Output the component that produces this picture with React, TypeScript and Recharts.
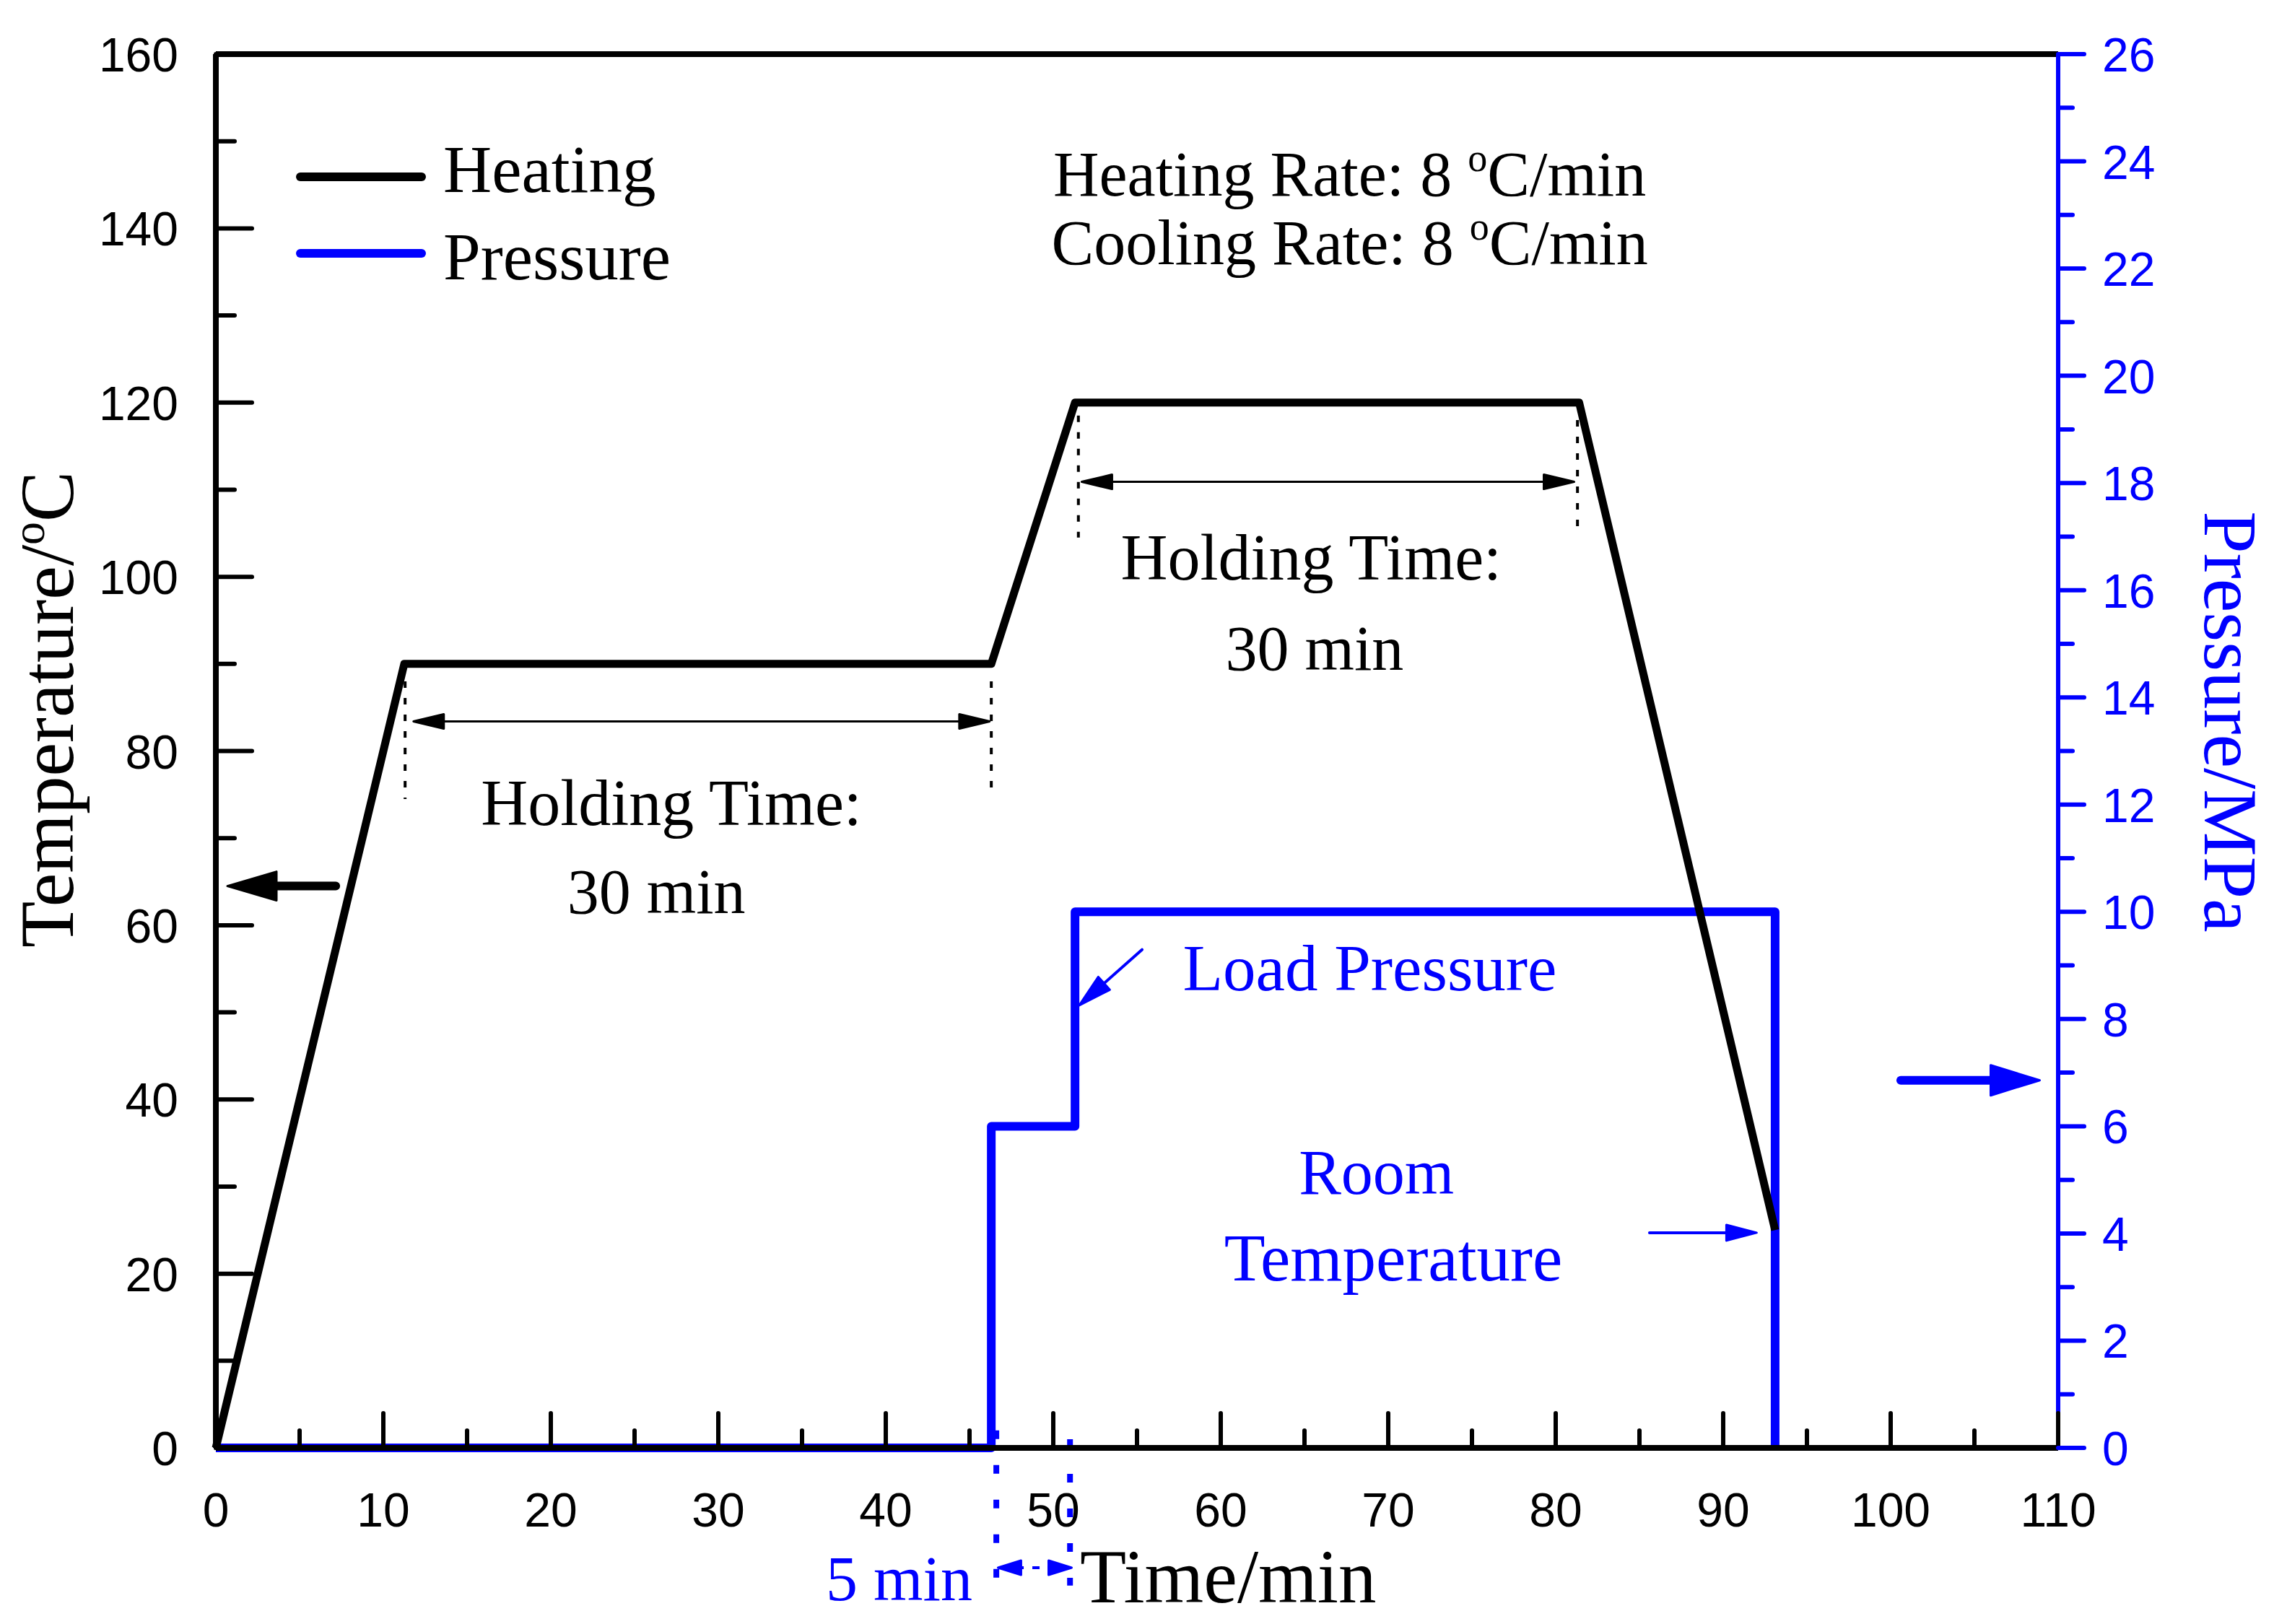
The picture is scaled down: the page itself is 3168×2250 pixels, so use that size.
import React from 'react';
import { ComposedChart, Line, XAxis, YAxis, ReferenceLine, ReferenceDot, Legend, Label } from 'recharts';

const SERIF = '"Liberation Serif", "Times New Roman", serif';
const SANS = '"Liberation Sans", Arial, sans-serif';
const BLUE = '#0000ff';

// heating profile (min, °C)
const heatTime = [0, 11.25, 46.3, 51.3, 81.4, 93.1];
const heatTemp = [0, 90, 90, 120, 120, 25];

// pressure profile (min, MPa)
const pressTime = [0, 46.3, 46.3, 51.3, 51.3, 93.1, 93.1];
const pressMPa = [0, 0, 6, 6, 10, 10, 0];

const timeTicks = [0, 5, 10, 15, 20, 25, 30, 35, 40, 45, 50, 55, 60, 65, 70, 75, 80, 85, 90, 95, 100, 105, 110];
const tempTicks = [0, 10, 20, 30, 40, 50, 60, 70, 80, 90, 100, 110, 120, 130, 140, 150, 160];
const pressTicks = [0, 1, 2, 3, 4, 5, 6, 7, 8, 9, 10, 11, 12, 13, 14, 15, 16, 17, 18, 19, 20, 21, 22, 23, 24, 25, 26];

const heatingData = heatTime.map((t, i) => ({ time: t, temp: heatTemp[i] }));
const pressureData = pressTime.map((t, i) => ({ time: t, pressure: pressMPa[i] }));

// annotation anchors, in data units (min, °C on the left axis)
const holdGuides = [
    { x: 11.3, y1: 88, y2: 74.5 },
    { x: 46.3, y1: 88, y2: 75.5 },
    { x: 51.5, y1: 118.5, y2: 104.5 },
    { x: 81.3, y1: 118, y2: 105 },
];
const holdArrows = [
    { x1: 11.8, x2: 46.2, y: 83.4 },
    { x1: 51.7, x2: 81.1, y: 110.9 },
];
const stepGuides = [
    { x: 46.6, y1: 2, y2: -15.8 },
    { x: 51.0, y1: 1, y2: -15.8 },
];
const stepArrow = { x1: 46.7, x2: 51.1, y: -13.75 };

const pointers = [
    { from: [7.16, 64.5], to: [0.69, 64.5], color: '#000', w: 12, head: 68, half: 20 },
    { from: [100.6, 42.2], to: [108.9, 42.2], color: BLUE, w: 12, head: 68, half: 21 },
    { from: [85.6, 24.7], to: [92.0, 24.7], color: BLUE, w: 4, head: 42, half: 11 },
    { from: [55.3, 57.2], to: [51.55, 50.8], color: BLUE, w: 4, head: 46, half: 12 },
];

const notes = [
    { x: 67.7, y: 143.8, size: 88, text: 'Heating Rate: 8 ', sup: 'o', tail: 'C/min', color: '#000' },
    { x: 67.7, y: 135.9, size: 88, text: 'Cooling Rate: 8 ', sup: 'o', tail: 'C/min', color: '#000' },
    { x: 27.2, y: 71.5, size: 90, text: 'Holding Time:', color: '#000' },
    { x: 26.3, y: 61.4, size: 88, text: '30 min', color: '#000' },
    { x: 65.4, y: 99.7, size: 90, text: 'Holding Time:', color: '#000' },
    { x: 65.6, y: 89.3, size: 88, text: '30 min', color: '#000' },
    { x: 68.9, y: 52.5, size: 91, text: 'Load Pressure', color: BLUE },
    { x: 69.3, y: 29.2, size: 88, text: 'Room', color: BLUE },
    { x: 70.3, y: 19.2, size: 93, text: 'Temperature', color: BLUE },
    { x: 40.8, y: -17.5, size: 88, text: '5 min', color: BLUE },
];

const arrowShape = (color: string, w: number, head: number, half: number, both = false, dash?: string) => (p: any) => {
    const { x1, y1, x2, y2 } = p;
    const len = Math.hypot(x2 - x1, y2 - y1) || 1;
    const ux = (x2 - x1) / len, uy = (y2 - y1) / len;
    const nx = -uy, ny = ux;
    const tri = (tx: number, ty: number, sx: number, sy: number) => {
        const bx = tx - sx * head, by = ty - sy * head;
        return `${tx},${ty} ${bx + nx * half},${by + ny * half} ${bx - nx * half},${by - ny * half}`;
    };
    const sx = both ? x1 + ux * head * 0.8 : x1;
    const sy = both ? y1 + uy * head * 0.8 : y1;
    return (
        <g>
            <line x1={sx} y1={sy} x2={x2 - ux * head * 0.8} y2={y2 - uy * head * 0.8}
                stroke={color} strokeWidth={w} strokeLinecap={dash ? 'butt' : 'round'} strokeDasharray={dash} />
            <polygon points={tri(x2, y2, ux, uy)} fill={color} stroke={color} strokeWidth={3} strokeLinejoin="round" />
            {both && <polygon points={tri(x1, y1, -ux, -uy)} fill={color} stroke={color} strokeWidth={3} strokeLinejoin="round" />}
        </g>
    );
};

const noteShape = (n: any) => (p: any) => (
    <text x={p.cx} y={p.cy} textAnchor="middle" fontFamily={SERIF} fontSize={n.size} fill={n.color}>
        {n.text}
        {n.sup && <tspan dy={-34} fontSize={54}>{n.sup}</tspan>}
        {n.sup && <tspan dy={34}>{n.tail}</tspan>}
    </text>
);

const TimeTick = ({ x, y, payload }: any) => {
    const major = payload.value % 10 === 0;
    return (
        <g>
            <line x1={x} y1={y} x2={x} y2={y - (major ? 48 : 24)} stroke="#000" strokeWidth={6} strokeLinecap="round" />
            {major && (
                <text x={x} y={y + 109} textAnchor="middle" fontFamily={SANS} fontSize={66} fill="#000">{payload.value}</text>
            )}
        </g>
    );
};

const TempTick = ({ x, y, payload }: any) => {
    const major = payload.value % 20 === 0;
    return (
        <g>
            <line x1={x} y1={y} x2={x + (major ? 50 : 26)} y2={y} stroke="#000" strokeWidth={6} strokeLinecap="round" />
            {major && (
                <text x={x - 52} y={y + 24} textAnchor="end" fontFamily={SANS} fontSize={66} fill="#000">{payload.value}</text>
            )}
        </g>
    );
};

const PressTick = ({ x, y, payload }: any) => {
    const major = payload.value % 2 === 0;
    return (
        <g>
            <line x1={x} y1={y} x2={x + (major ? 36 : 20)} y2={y} stroke={BLUE} strokeWidth={6} strokeLinecap="round" />
            {major && (
                <text x={x + 61} y={y + 24} textAnchor="start" fontFamily={SANS} fontSize={66} fill={BLUE}>{payload.value}</text>
            )}
        </g>
    );
};

const TimeTitle = (props: any) => {
    const vb = props.viewBox || { x: 0, y: 0 };
    return <text x={vb.x + 1197} y={vb.y + 214} fontFamily={SERIF} fontSize={105} fill="#000">Time/min</text>;
};

const TempTitle = (props: any) => {
    const vb = props.viewBox || { x: 0, y: 0 };
    const x = vb.x + 101, y = vb.y + 908;
    return (
        <text x={x} y={y} transform={`rotate(-90, ${x}, ${y})`} textAnchor="middle" fontFamily={SERIF} fontSize={105} fill="#000">
            Temperature/<tspan dy={-40} fontSize={64}>o</tspan><tspan dy={40}>C</tspan>
        </text>
    );
};

const PressTitle = (props: any) => {
    const vb = props.viewBox || { x: 0, y: 0 };
    const x = vb.x + 203, y = vb.y + 925;
    return (
        <text x={x} y={y} transform={`rotate(90, ${x}, ${y})`} textAnchor="middle" fontFamily={SERIF} fontSize={105} fill={BLUE}>
            Pressure/MPa
        </text>
    );
};

const legendOrder = ['Heating', 'Pressure'];
const legendShift = [-10, 5];

const LegendBox = ({ payload }: any) => {
    const items = (payload || []).slice().sort((a: any, b: any) => legendOrder.indexOf(a.value) - legendOrder.indexOf(b.value));
    return (
        <div style={{ fontFamily: SERIF, fontSize: 93 }}>
            {items.map((item: any, i: number) => (
                <div key={item.value} style={{ display: 'flex', alignItems: 'center', height: 106 }}>
                    <svg width={180} height={14}>
                        <line x1={6} y1={7} x2={174} y2={7} stroke={item.color} strokeWidth={12} strokeLinecap="round" />
                    </svg>
                    <span style={{ marginLeft: 24, lineHeight: '88px', color: '#000', position: 'relative', top: legendShift[i] || 0 }}>
                        {item.value}
                    </span>
                </div>
            ))}
        </div>
    );
};

const App = () => {
    return (
        <div style={{ position: 'absolute', left: 0, top: 0, width: 3168, height: 2250, background: '#fff' }}>
            <ComposedChart width={3168} height={2250} margin={{ top: 75, right: 0, bottom: 0, left: 0 }}>
                <XAxis
                    dataKey="time"
                    type="number"
                    domain={[0, 110]}
                    ticks={timeTicks}
                    interval={0}
                    height={244}
                    tickSize={0}
                    tickMargin={0}
                    tickLine={false}
                    tick={TimeTick}
                    axisLine={{ stroke: '#000', strokeWidth: 8 }}
                    label={<Label content={TimeTitle} />}
                />
                <YAxis
                    yAxisId="left"
                    type="number"
                    domain={[0, 160]}
                    ticks={tempTicks}
                    interval={0}
                    width={299}
                    tickSize={0}
                    tickMargin={0}
                    tickLine={false}
                    tick={TempTick}
                    axisLine={{ stroke: '#000', strokeWidth: 8 }}
                    label={<Label content={TempTitle} />}
                />
                <YAxis
                    yAxisId="right"
                    orientation="right"
                    type="number"
                    domain={[0, 26]}
                    ticks={pressTicks}
                    interval={0}
                    width={317}
                    tickSize={0}
                    tickMargin={0}
                    tickLine={false}
                    tick={PressTick}
                    axisLine={{ stroke: BLUE, strokeWidth: 6 }}
                    label={<Label content={PressTitle} />}
                />

                <ReferenceLine yAxisId="left" y={160} stroke="#000" strokeWidth={8} />

                <Line
                    data={pressureData}
                    yAxisId="right"
                    dataKey="pressure"
                    name="Pressure"
                    type="linear"
                    stroke={BLUE}
                    strokeWidth={12}
                    strokeLinejoin="round"
                    dot={false}
                    activeDot={false}
                    isAnimationActive={false}
                />
                <Line
                    data={heatingData}
                    yAxisId="left"
                    dataKey="temp"
                    name="Heating"
                    type="linear"
                    stroke="#000"
                    strokeWidth={11}
                    strokeLinejoin="round"
                    dot={false}
                    activeDot={false}
                    isAnimationActive={false}
                />

                {holdGuides.map((g, i) => (
                    <ReferenceLine key={`hg${i}`} yAxisId="left" ifOverflow="visible"
                        segment={[{ x: g.x, y: g.y1 }, { x: g.x, y: g.y2 }]}
                        stroke="#000" strokeWidth={4} strokeDasharray="9 14" />
                ))}
                {holdArrows.map((a, i) => (
                    <ReferenceLine key={`ha${i}`} yAxisId="left" ifOverflow="visible"
                        segment={[{ x: a.x1, y: a.y }, { x: a.x2, y: a.y }]}
                        shape={arrowShape('#000', 3, 42, 10, true)} />
                ))}
                {stepGuides.map((g, i) => (
                    <ReferenceLine key={`sg${i}`} yAxisId="left" ifOverflow="visible"
                        segment={[{ x: g.x, y: g.y1 }, { x: g.x, y: g.y2 }]}
                        stroke={BLUE} strokeWidth={8} strokeDasharray="12 36" />
                ))}
                <ReferenceLine yAxisId="left" ifOverflow="visible"
                    segment={[{ x: stepArrow.x1, y: stepArrow.y }, { x: stepArrow.x2, y: stepArrow.y }]}
                    shape={arrowShape(BLUE, 4, 32, 10, true, '10 12')} />
                {pointers.map((a, i) => (
                    <ReferenceLine key={`pa${i}`} yAxisId="left" ifOverflow="visible"
                        segment={[{ x: a.from[0], y: a.from[1] }, { x: a.to[0], y: a.to[1] }]}
                        shape={arrowShape(a.color, a.w, a.head, a.half)} />
                ))}
                {notes.map((n, i) => (
                    <ReferenceDot key={`nt${i}`} yAxisId="left" x={n.x} y={n.y} r={0} ifOverflow="visible"
                        shape={noteShape(n)} />
                ))}

                <Legend
                    content={LegendBox}
                    layout="vertical"
                    align="center"
                    verticalAlign="middle"
                    wrapperStyle={{ left: 410, top: 192, width: 'auto' }}
                />
            </ComposedChart>
        </div>
    );
};

export default App;
